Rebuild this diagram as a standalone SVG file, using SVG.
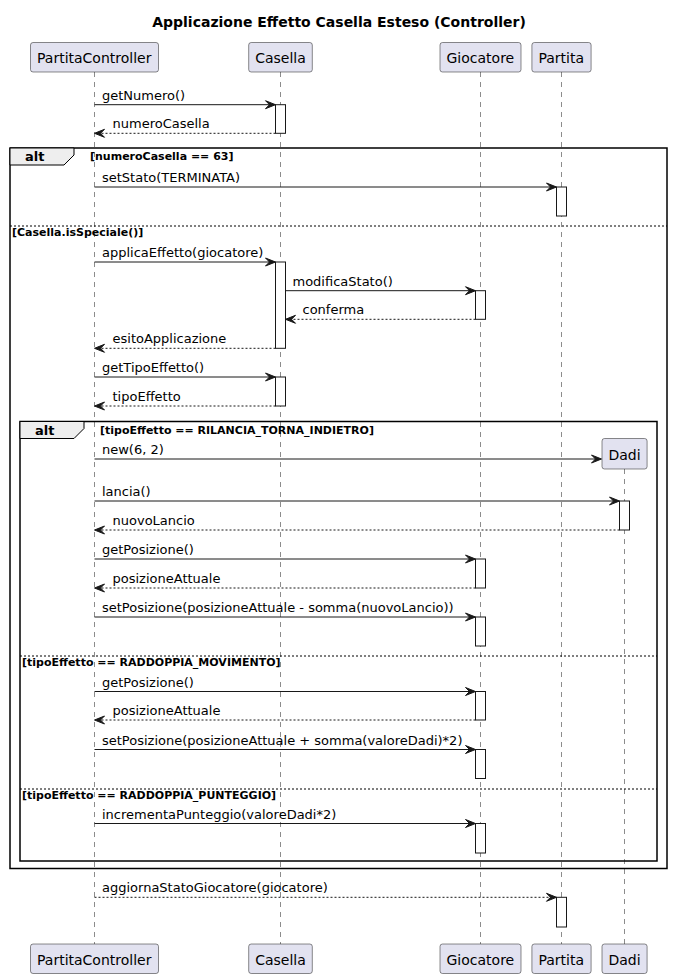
<svg xmlns="http://www.w3.org/2000/svg" width="673" height="979" viewBox="0 0 673 979">
<style>
text{font-family:"DejaVu Sans","Liberation Sans",sans-serif;fill:#000000}
.title{font-size:14px;font-weight:bold}
.pname{font-size:14px}
.msg{font-size:13px}
.kw{font-size:13px;font-weight:bold}
.cond{font-size:11px;font-weight:bold}
.pbox{fill:#E2E2F0;stroke:#181818;stroke-width:0.5}
.life{stroke:#181818;stroke-width:0.5;stroke-dasharray:5,5;fill:none}
.act{fill:#FFFFFF;stroke:#181818;stroke-width:1}
.frame{fill:none;stroke:#000000;stroke-width:1.5}
.tab{fill:#EEEEEE;stroke:#000000;stroke-width:1}
.sep{stroke:#000000;stroke-width:1;stroke-dasharray:2,2}
.line{stroke:#181818;stroke-width:1;fill:none}
.dash{stroke:#181818;stroke-width:1;stroke-dasharray:2,2;fill:none}
.head{fill:#181818;stroke:#181818;stroke-width:1}
</style>
<rect width="673" height="979" fill="#FFFFFF"/>
<text class="title" x="339" y="27" text-anchor="middle">Applicazione Effetto Casella Esteso (Controller)</text>

<g id="lifelines">
<line class="life" x1="94.5" y1="72" x2="94.5" y2="944"/>
<line class="life" x1="280.5" y1="72" x2="280.5" y2="944"/>
<line class="life" x1="480.5" y1="72" x2="480.5" y2="944"/>
<line class="life" x1="561.5" y1="72" x2="561.5" y2="944"/>
<line class="life" x1="624.5" y1="469" x2="624.5" y2="944"/>
</g>

<g id="frames">
<rect class="frame" x="10" y="148" width="657" height="720.5"/>
<polygon class="tab" points="10,148 74,148 74,155 64,165 10,165"/>
<text class="kw" x="25" y="161">alt</text>
<text class="cond" x="90" y="160">[numeroCasella == 63]</text>
<line class="sep" x1="10" y1="226" x2="667" y2="226"/>
<text class="cond" x="12" y="235.5">[Casella.isSpeciale()]</text>

<rect class="frame" x="20" y="421.5" width="637" height="439.5"/>
<polygon class="tab" points="20,421.5 84,421.5 84,428.5 74,438.5 20,438.5"/>
<text class="kw" x="35" y="434.5">alt</text>
<text class="cond" x="100" y="433.5">[tipoEffetto == RILANCIA_TORNA_INDIETRO]</text>
<line class="sep" x1="20" y1="656" x2="657" y2="656"/>
<text class="cond" x="22" y="666">[tipoEffetto == RADDOPPIA_MOVIMENTO]</text>
<line class="sep" x1="20" y1="789" x2="657" y2="789"/>
<text class="cond" x="22" y="799">[tipoEffetto == RADDOPPIA_PUNTEGGIO]</text>
</g>

<g id="activations">
<rect class="act" x="275.5" y="104.7" width="10" height="28.6"/>
<rect class="act" x="556.5" y="187" width="10" height="29"/>
<rect class="act" x="275.5" y="262" width="10" height="86.3"/>
<rect class="act" x="475.5" y="290.7" width="10" height="28.6"/>
<rect class="act" x="275.5" y="377" width="10" height="29"/>
<rect class="act" x="619.5" y="501" width="10" height="29"/>
<rect class="act" x="475.5" y="559" width="10" height="29"/>
<rect class="act" x="475.5" y="617" width="10" height="29"/>
<rect class="act" x="475.5" y="691.5" width="10" height="28.5"/>
<rect class="act" x="475.5" y="749.5" width="10" height="29"/>
<rect class="act" x="475.5" y="823.5" width="10" height="29.5"/>
<rect class="act" x="556.5" y="897.3" width="10" height="29.7"/>
</g>

<g id="connectors">
<line class="line" x1="94.5" y1="104.7" x2="274.5" y2="104.7"/>
<polygon class="head" points="265.5,100.7 275.5,104.7 265.5,108.7 269.5,104.7"/>
<text class="msg" x="102" y="99.7">getNumero()</text>

<line class="dash" x1="275.5" y1="133.3" x2="95.5" y2="133.3"/>
<polygon class="head" points="104.5,129.3 94.5,133.3 104.5,137.3 100.5,133.3"/>
<text class="msg" x="112.5" y="128.3">numeroCasella</text>

<line class="line" x1="94.5" y1="187" x2="555.5" y2="187"/>
<polygon class="head" points="546.5,183 556.5,187 546.5,191 550.5,187"/>
<text class="msg" x="102" y="182">setStato(TERMINATA)</text>

<line class="line" x1="94.5" y1="262" x2="274.5" y2="262"/>
<polygon class="head" points="265.5,258 275.5,262 265.5,266 269.5,262"/>
<text class="msg" x="102" y="257">applicaEffetto(giocatore)</text>

<line class="line" x1="285.5" y1="290.7" x2="474.5" y2="290.7"/>
<polygon class="head" points="465.5,286.7 475.5,290.7 465.5,294.7 469.5,290.7"/>
<text class="msg" x="292.5" y="285.7">modificaStato()</text>

<line class="dash" x1="475.5" y1="319.3" x2="286.5" y2="319.3"/>
<polygon class="head" points="295.5,315.3 285.5,319.3 295.5,323.3 291.5,319.3"/>
<text class="msg" x="302.5" y="314.3">conferma</text>

<line class="dash" x1="275.5" y1="348.3" x2="95.5" y2="348.3"/>
<polygon class="head" points="104.5,344.3 94.5,348.3 104.5,352.3 100.5,348.3"/>
<text class="msg" x="112.5" y="343.3">esitoApplicazione</text>

<line class="line" x1="94.5" y1="377" x2="274.5" y2="377"/>
<polygon class="head" points="265.5,373 275.5,377 265.5,381 269.5,377"/>
<text class="msg" x="102" y="372">getTipoEffetto()</text>

<line class="dash" x1="275.5" y1="406" x2="95.5" y2="406"/>
<polygon class="head" points="104.5,402 94.5,406 104.5,410 100.5,406"/>
<text class="msg" x="112.5" y="401">tipoEffetto</text>

<line class="line" x1="94.5" y1="459" x2="600.5" y2="459"/>
<polygon class="head" points="591.5,455 601.5,459 591.5,463 595.5,459"/>
<text class="msg" x="102" y="454">new(6, 2)</text>

<line class="line" x1="94.5" y1="501" x2="618.5" y2="501"/>
<polygon class="head" points="609.5,497 619.5,501 609.5,505 613.5,501"/>
<text class="msg" x="102" y="496">lancia()</text>

<line class="dash" x1="619.5" y1="530" x2="95.5" y2="530"/>
<polygon class="head" points="104.5,526 94.5,530 104.5,534 100.5,530"/>
<text class="msg" x="112.5" y="525">nuovoLancio</text>

<line class="line" x1="94.5" y1="559" x2="474.5" y2="559"/>
<polygon class="head" points="465.5,555 475.5,559 465.5,563 469.5,559"/>
<text class="msg" x="102" y="554">getPosizione()</text>

<line class="dash" x1="475.5" y1="588" x2="95.5" y2="588"/>
<polygon class="head" points="104.5,584 94.5,588 104.5,592 100.5,588"/>
<text class="msg" x="112.5" y="583">posizioneAttuale</text>

<line class="line" x1="94.5" y1="617" x2="474.5" y2="617"/>
<polygon class="head" points="465.5,613 475.5,617 465.5,621 469.5,617"/>
<text class="msg" x="102" y="612">setPosizione(posizioneAttuale - somma(nuovoLancio))</text>

<line class="line" x1="94.5" y1="691.5" x2="474.5" y2="691.5"/>
<polygon class="head" points="465.5,687.5 475.5,691.5 465.5,695.5 469.5,691.5"/>
<text class="msg" x="102" y="686.5">getPosizione()</text>

<line class="dash" x1="475.5" y1="720" x2="95.5" y2="720"/>
<polygon class="head" points="104.5,716 94.5,720 104.5,724 100.5,720"/>
<text class="msg" x="112.5" y="715">posizioneAttuale</text>

<line class="line" x1="94.5" y1="749.5" x2="474.5" y2="749.5"/>
<polygon class="head" points="465.5,745.5 475.5,749.5 465.5,753.5 469.5,749.5"/>
<text class="msg" x="102" y="744.5">setPosizione(posizioneAttuale + somma(valoreDadi)*2)</text>

<line class="line" x1="94.5" y1="823.5" x2="474.5" y2="823.5"/>
<polygon class="head" points="465.5,819.5 475.5,823.5 465.5,827.5 469.5,823.5"/>
<text class="msg" x="102" y="818.5">incrementaPunteggio(valoreDadi*2)</text>

<line class="dash" x1="94.5" y1="897.3" x2="555.5" y2="897.3"/>
<polygon class="head" points="546.5,893.3 556.5,897.3 546.5,901.3 550.5,897.3"/>
<text class="msg" x="102" y="892.3">aggiornaStatoGiocatore(giocatore)</text>
</g>

<g id="PartitaController">
<rect class="pbox" x="30.5" y="42.5" width="128" height="29.5" rx="2.5"/>
<text class="pname" x="37" y="63">PartitaController</text>
<rect class="pbox" x="30.5" y="944" width="128" height="29.5" rx="2.5"/>
<text class="pname" x="37" y="964.5">PartitaController</text>
</g>
<g id="Casella">
<rect class="pbox" x="248.7" y="42.5" width="63.6" height="29.5" rx="2.5"/>
<text class="pname" x="255.2" y="63">Casella</text>
<rect class="pbox" x="248.7" y="944" width="63.6" height="29.5" rx="2.5"/>
<text class="pname" x="255.2" y="964.5">Casella</text>
</g>
<g id="Giocatore">
<rect class="pbox" x="440" y="42.5" width="81" height="29.5" rx="2.5"/>
<text class="pname" x="446.5" y="63">Giocatore</text>
<rect class="pbox" x="440" y="944" width="81" height="29.5" rx="2.5"/>
<text class="pname" x="446.5" y="964.5">Giocatore</text>
</g>
<g id="Partita">
<rect class="pbox" x="531.9" y="42.5" width="59.2" height="29.5" rx="2.5"/>
<text class="pname" x="538.4" y="63">Partita</text>
<rect class="pbox" x="531.9" y="944" width="59.2" height="29.5" rx="2.5"/>
<text class="pname" x="538.4" y="964.5">Partita</text>
</g>
<g id="Dadi">
<rect class="pbox" x="602" y="438.5" width="45.1" height="30.5" rx="2.5"/>
<text class="pname" x="608.5" y="459.5">Dadi</text>
<rect class="pbox" x="602" y="944" width="45.1" height="29.5" rx="2.5"/>
<text class="pname" x="608.5" y="964.5">Dadi</text>
</g>
</svg>
